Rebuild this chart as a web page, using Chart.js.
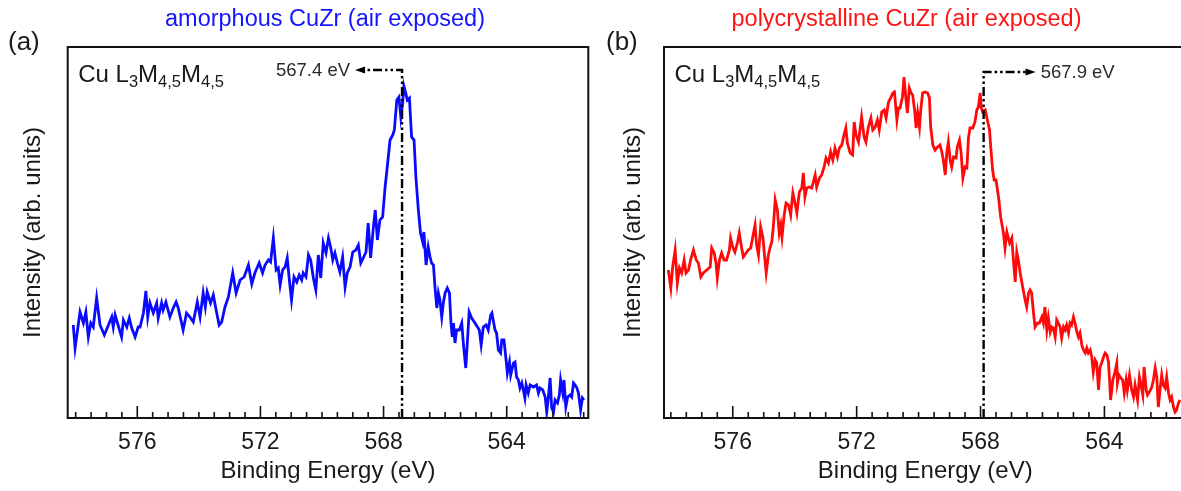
<!DOCTYPE html>
<html>
<head>
<meta charset="utf-8">
<script src="https://cdn.jsdelivr.net/npm/chart.js@4.4.1/dist/chart.umd.min.js"></script>
<style>
  html, body { margin: 0; padding: 0; background: #fff; overflow: hidden; width: 1181px; height: 491px; }
  .panel { position: absolute; top: 0; width: 600px; height: 491px; }
  #panelA { left: 0; }
  #panelB { left: 600px; }
</style>
</head>
<body>
<div class="panel" id="panelA"><canvas id="chartA" width="600" height="491"></canvas></div>
<div class="panel" id="panelB"><canvas id="chartB" width="600" height="491"></canvas></div>
<script>
// Cu L3M4,5M4,5 Auger spectra of air-exposed CuZr (binding energy in eV, intensity in arb. units)

const energyAmorphous = [
  578.08,578.02,577.86,577.75,577.67,577.59,577.51,577.43,577.32,577.21,
  577.07,576.91,576.83,576.78,576.72,576.51,576.45,576.34,576.26,576.18,
  576.07,575.97,575.91,575.80,575.72,575.66,575.59,575.48,575.37,575.32,
  575.21,575.16,575.07,574.94,574.83,574.74,574.67,574.51,574.40,574.29,
  574.18,574.05,573.96,573.86,573.79,573.73,573.62,573.53,573.42,573.34,
  573.26,573.15,573.04,572.90,572.79,572.66,572.53,572.39,572.28,572.18,
  572.04,
  571.93,571.85,571.74,571.67,571.58,571.49,571.42,571.36,571.28,571.20,
  571.13,571.06,570.99,570.91,570.82,570.74,570.66,570.61,570.52,570.44,
  570.37,570.28,570.20,570.12,570.04,569.96,569.87,569.79,569.72,569.65,
  569.58,569.50,569.42,569.33,569.25,569.18,569.09,569.00,568.90,568.82,
  568.74,568.66,568.57,568.50,568.42,568.33,568.27,568.20,568.12,568.03,
  567.95,567.88,567.79,567.70,567.65,567.57,567.50,567.44,567.38,567.34,
  567.28,567.23,567.16,567.09,567.01,566.95,566.87,566.80,566.73,566.69,
  566.62,566.55,566.49,
  566.44,566.38,566.33,566.27,566.22,566.17,566.11,566.06,566.00,565.93,
  565.86,565.81,565.77,565.73,565.68,565.63,565.54,565.46,565.41,565.33,
  565.28,565.22,565.14,565.03,564.95,564.89,564.83,564.76,564.67,564.60,
  564.52,564.48,564.38,564.33,564.27,564.20,564.16,564.09,564.02,563.98,
  563.91,563.87,563.78,563.73,563.68,563.62,563.57,563.51,563.46,563.41,
  563.37,563.30,563.24,563.13,563.03,562.97,562.92,562.83,562.75,562.70,
  562.65,562.59,562.54,562.48,562.43,562.35,562.29,562.25,562.18,562.14,
  562.08,562.02,561.94,561.89,561.83,561.78,561.72,561.67,561.60,561.54,
  561.49
];
const intensityAmorphous = [
  93,70,106,95,106,81,95,91,120,93,
  83,95,101,91,103,81,98,91,100,90,
  81,91,91,105,127,101,115,105,115,100,
  115,108,116,101,110,116,110,88,105,101,
  96,116,101,125,111,126,115,123,105,93,
  96,111,121,145,125,138,141,153,134,145,
  155,
  145,153,158,156,180,148,150,133,148,151,
  160,138,118,141,136,143,138,145,141,163,
  158,140,128,163,140,175,165,180,171,158,
  165,155,146,161,131,145,151,166,168,173,
  155,160,166,195,160,191,208,178,198,201,
  231,251,278,283,288,318,321,301,315,332,
  325,318,320,281,278,241,208,185,176,186,
  153,171,161,
  155,153,131,110,125,118,101,115,125,130,
  125,95,81,95,75,88,88,95,75,50,
  75,106,100,95,91,88,73,91,93,88,
  103,105,88,85,68,65,78,78,58,45,
  56,43,55,56,41,38,30,35,28,20,
  33,25,33,31,33,25,30,28,21,6,
  20,40,10,6,18,15,23,38,25,38,
  11,21,23,21,35,33,30,25,8,20,
  18
];

const energyPolycrystalline = [
  578.08,578.00,577.94,577.86,577.79,577.72,577.65,577.57,577.51,577.43,
  577.36,577.27,577.18,577.11,577.03,576.95,576.84,576.73,576.68,576.60,
  576.54,576.50,576.43,576.36,576.28,576.20,576.11,576.07,576.00,575.93,
  575.85,575.79,575.74,575.66,575.57,575.50,575.42,575.33,575.28,575.23,
  575.17,575.10,575.03,574.99,574.92,574.85,574.80,574.74,574.69,574.63,
  574.56,574.50,574.45,574.41,574.34,574.28,574.20,574.13,574.06,573.99,
  573.93,573.85,573.77,573.72,573.67,573.61,573.53,573.45,573.34,573.29,
  573.20,573.13,573.05,572.99,572.91,572.84,572.77,572.70,572.62,572.56,
  572.48,572.41,572.35,572.30,572.21,572.13,572.08,572.02,571.94,
  571.84,571.76,571.70,571.62,571.54,571.48,571.40,571.33,571.27,571.19,
  571.11,571.05,570.97,570.90,570.83,570.78,570.70,570.65,570.60,570.52,
  570.47,570.40,570.36,570.30,570.24,570.19,570.13,570.08,570.03,569.97,
  569.93,569.87,569.79,569.71,569.65,569.61,569.54,569.47,569.39,569.31,
  569.25,569.20,569.14,569.09,569.04,568.98,568.93,568.87,568.79,568.75,
  568.68,568.63,568.57,568.50,568.44,568.39,568.34,568.25,568.18,568.12,
  568.07,568.01,567.98,567.93,567.85,567.80,567.71,567.67,567.61,567.56,
  567.50,567.42,567.35,567.26,567.21,567.15,567.06,566.99,566.94,566.88,
  566.83,566.78,566.72,566.64,566.56,566.51,566.45,566.40,
  566.35,566.29,566.24,566.16,566.10,566.02,565.97,565.92,565.86,565.81,
  565.75,565.70,565.65,565.59,565.54,565.49,565.43,565.38,565.32,565.27,
  565.22,565.16,565.11,565.06,565.00,564.95,564.89,564.84,564.79,564.73,
  564.68,564.62,564.57,564.52,564.46,564.41,564.36,564.30,564.25,564.19,
  564.14,564.09,564.03,563.98,563.92,563.87,563.84,563.80,563.73,563.66,
  563.60,563.58,563.53,563.47,563.41,563.36,563.30,563.26,563.19,563.12,
  563.06,563.01,562.93,562.87,562.83,562.76,562.72,562.65,562.61,562.55,
  562.47,562.42,562.36,562.31,562.26,562.20,562.15,562.10,562.04,561.99,
  561.93,561.88,561.83,561.77,561.72,561.67,561.61,561.56
];
const intensityPolycrystalline = [
  148,130,151,168,135,150,145,158,145,148,
  158,168,158,155,141,145,148,151,170,165,
  155,140,158,165,158,158,168,180,171,166,
  175,185,175,161,165,168,170,185,193,173,
  163,191,181,168,145,163,170,176,191,218,
  208,185,193,181,203,215,213,203,225,215,
  205,226,230,245,221,230,231,230,243,231,
  240,243,251,260,255,266,258,270,261,270,
  273,283,290,275,265,263,296,283,276,
  301,281,276,291,300,288,291,298,288,306,
  308,300,316,320,325,326,298,310,310,321,
  341,316,305,330,325,323,308,290,305,291,
  308,325,326,325,320,291,273,268,271,273,
  266,258,243,265,276,258,251,261,260,271,
  278,266,240,251,250,280,290,290,296,308,
  311,325,311,306,308,301,288,271,248,238,
  238,221,201,185,170,186,175,180,158,136,
  166,158,145,131,118,111,125,128,
  125,105,91,95,95,101,95,111,88,100,
  86,91,90,81,98,95,91,80,91,88,
  93,85,95,93,101,95,86,81,85,73,
  68,65,70,65,68,61,46,58,55,28,
  51,55,61,65,63,56,41,18,38,46,
  55,35,43,40,38,25,38,28,43,28,
  21,33,18,41,35,23,51,28,23,26,
  31,38,50,41,11,30,43,33,30,41,
  25,18,21,11,6,8,15,18
];

// labelled binding-energy ticks and the marked peak positions
const energyTickLabels = [576, 572, 568, 564];
const peakEnergies = [567.4, 567.9];
const peakLabels = ['567.4 eV', '567.9 eV'];
const panelTitles = ['amorphous CuZr (air exposed)', 'polycrystalline CuZr (air exposed)'];
const panelTags = ['(a)', '(b)'];

const FONT = '"Liberation Sans", Arial, Helvetica, sans-serif';
const INK = '#1a1a1a';

// frame, inward ticks, peak marker and panel annotations
const spectrumDecor = {
  id: 'spectrumDecor',
  afterDatasetsDraw(chart, args, o) {
    const { ctx, chartArea: ca, scales: { x, y } } = chart;
    ctx.save();

    // dash-dot-dot marker at the peak, bent into an arrow
    const px = x.getPixelForValue(o.peak);
    const py = y.getPixelForValue(o.markerLevel);
    const tip = px + o.arrowDir * o.arrowLen;
    ctx.strokeStyle = '#000';
    ctx.lineWidth = 2.4;
    ctx.setLineDash([9, 3, 2.5, 3, 2.5, 3]);
    ctx.beginPath();
    ctx.moveTo(px, ca.bottom);
    ctx.lineTo(px, py);
    ctx.lineTo(tip - o.arrowDir * 8, py);
    ctx.stroke();
    ctx.setLineDash([]);
    ctx.fillStyle = '#000';
    ctx.beginPath();
    ctx.moveTo(tip, py);
    ctx.lineTo(tip - o.arrowDir * 10, py - 3.5);
    ctx.lineTo(tip - o.arrowDir * 10, py + 3.5);
    ctx.closePath();
    ctx.fill();

    ctx.font = '18.5px ' + FONT;
    ctx.fillStyle = '#2a2a2a';
    ctx.textBaseline = 'middle';
    ctx.textAlign = o.arrowDir < 0 ? 'right' : 'left';
    ctx.fillText(o.peakLabel, tip + o.arrowDir * 5, py + 1);

    // plot frame
    ctx.strokeStyle = '#111';
    ctx.lineWidth = 2;
    ctx.strokeRect(ca.left, ca.top, ca.width, ca.height);

    // inward ticks every 0.5 eV, longer at labelled energies
    ctx.lineWidth = 1.6;
    ctx.beginPath();
    for (let e = 561.5; e <= 578.01; e += 0.5) {
      const tx = x.getPixelForValue(e);
      if (tx < ca.left || tx > ca.right) continue;
      const major = energyTickLabels.some(v => Math.abs(v - e) < 1e-6);
      ctx.moveTo(tx, ca.bottom);
      ctx.lineTo(tx, ca.bottom - (major ? 12 : 6));
    }
    ctx.stroke();

    // transition label with subscripts
    let lx = ca.left + 10.5;
    const ly = 82;
    const big = '24px ' + FONT, small = '16.5px ' + FONT;
    const parts = [['Cu L', big, 0], ['3', small, 5], ['M', big, 0], ['4,5', small, 5], ['M', big, 0], ['4,5', small, 5]];
    ctx.fillStyle = INK;
    ctx.textAlign = 'left';
    ctx.textBaseline = 'alphabetic';
    for (const [t, f, dy] of parts) {
      ctx.font = f;
      ctx.fillText(t, lx, ly + dy);
      lx += ctx.measureText(t).width;
    }
    ctx.restore();
  },
  afterDraw(chart, args, o) {
    const { ctx } = chart;
    ctx.save();
    ctx.textBaseline = 'alphabetic';
    ctx.font = '23.5px ' + FONT;
    ctx.fillStyle = o.titleColor;
    ctx.textAlign = 'center';
    ctx.fillText(o.title, o.titleX, 26);
    ctx.font = '26px ' + FONT;
    ctx.fillStyle = INK;
    ctx.textAlign = 'left';
    ctx.fillText(o.tag, o.tagX, 50);
    ctx.restore();
  }
};

function buildSpectrum(canvasId, energies, intensities, cfg) {
  const points = energies.map((e, i) => ({ x: e, y: intensities[i] }));
  return new Chart(document.getElementById(canvasId), {
    type: 'line',
    data: {
      datasets: [{
        data: points,
        borderColor: cfg.color,
        borderWidth: 2.8,
        pointRadius: 0,
        tension: 0,
        fill: false
      }]
    },
    options: {
      responsive: false,
      animation: false,
      devicePixelRatio: 1,
      parsing: false,
      layout: { padding: { left: 0, top: 47, right: cfg.padRight, bottom: 0 } },
      plugins: {
        legend: { display: false },
        tooltip: { enabled: false },
        spectrumDecor: cfg.decor
      },
      scales: {
        x: {
          type: 'linear',
          reverse: true,
          min: cfg.xMin,
          max: cfg.xMax,
          afterBuildTicks: s => { s.ticks = energyTickLabels.map(v => ({ value: v })); },
          afterFit: s => { s.height = 73; },
          grid: { display: false, drawTicks: false },
          border: { display: false },
          ticks: {
            padding: 11,
            autoSkip: false,
            maxRotation: 0,
            color: INK,
            font: { family: FONT, size: 23 },
            callback: v => String(v)
          },
          title: {
            display: true,
            text: 'Binding Energy (eV)',
            color: INK,
            font: { family: FONT, size: 24 },
            padding: { top: 0, bottom: 5.6 }
          }
        },
        y: {
          type: 'linear',
          min: 0,
          max: 371,
          afterFit: s => { s.width = cfg.axisWidth; },
          grid: { display: false, drawTicks: false },
          border: { display: false },
          ticks: { display: false },
          title: {
            display: true,
            text: 'Intensity (arb. units)',
            color: INK,
            font: { family: FONT, size: 24 },
            padding: { top: 18.6, bottom: 0 }
          }
        }
      }
    },
    plugins: [spectrumDecor]
  });
}

buildSpectrum('chartA', energyAmorphous, intensityAmorphous, {
  color: '#0a0aff',
  xMin: 561.35, xMax: 578.26,
  axisWidth: 67.7, padRight: 11.7,
  decor: {
    peak: peakEnergies[0], peakLabel: peakLabels[0],
    markerLevel: 348, arrowDir: -1, arrowLen: 47,
    title: panelTitles[0], titleColor: '#1414ff', titleX: 325,
    tag: panelTags[0], tagX: 8
  }
});

buildSpectrum('chartB', energyPolycrystalline, intensityPolycrystalline, {
  color: '#ff0a0a',
  xMin: 561.35, xMax: 578.22,
  axisWidth: 64, padRight: 13.5,
  decor: {
    peak: peakEnergies[1], peakLabel: peakLabels[1],
    markerLevel: 346, arrowDir: 1, arrowLen: 52,
    title: panelTitles[1], titleColor: '#ff1414', titleX: 306.5,
    tag: panelTags[1], tagX: 6
  }
});
</script>
</body>
</html>
